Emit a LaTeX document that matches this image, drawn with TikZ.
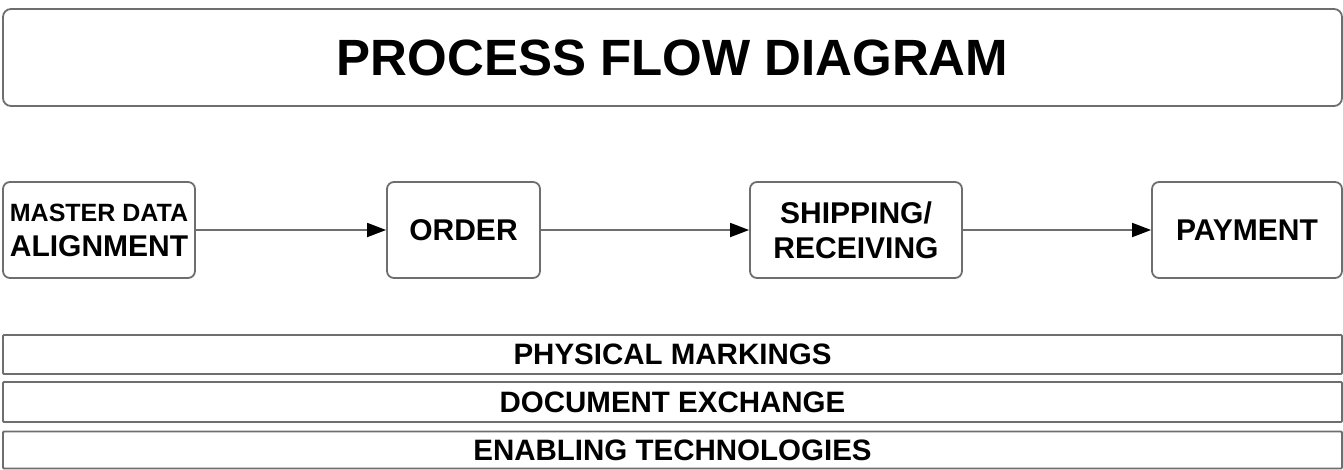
\documentclass[tikz,border=0pt]{standalone}
\usepackage{fontspec}
\setmainfont{Liberation Sans}
\usetikzlibrary{arrows.meta}
\definecolor{edgegray}{HTML}{6E6E6E}
\tikzset{
  frame/.style={draw=edgegray, line width=1.8pt, fill=white, inner sep=0pt, align=center, text=black, font=\bfseries\fontsize{30}{35}\selectfont},
  stepbox/.style={frame, rounded corners=7pt, minimum height=96pt},
  titlebox/.style={frame, rounded corners=8pt, minimum width=1339pt, minimum height=97pt, font=\bfseries\fontsize{51}{56}\selectfont},
  barbox/.style={frame, rounded corners=1pt, minimum width=1339pt, font=\bfseries\fontsize{29.5}{32}\selectfont},
  flow/.style={draw=edgegray, line width=1.8pt, -{Triangle[length=19pt,width=14pt,color=black]}}
}
\begin{document}
\begin{tikzpicture}[x=1pt,y=-1pt]
\useasboundingbox (0,0) rectangle (1343,469);
\node[titlebox] (title) at (672.5,57.5) {PROCESS FLOW DIAGRAM};
\node[stepbox, minimum width=192pt] (mda) at (99,230) {{\fontsize{25}{35}\selectfont MASTER DATA}\\ALIGNMENT};
\node[stepbox, minimum width=153pt] (order) at (463.5,230) {ORDER};
\node[stepbox, minimum width=212pt] (ship) at (856,230) {SHIPPING/\\RECEIVING};
\node[stepbox, minimum width=190pt] (pay) at (1247,230) {PAYMENT};
\draw[flow] (mda) -- (order);
\draw[flow] (order) -- (ship);
\draw[flow] (ship) -- (pay);
\node[barbox, minimum height=39pt] (phys) at (672.5,354.5) {PHYSICAL MARKINGS};
\node[barbox, minimum height=40pt] (doc) at (672.5,402) {DOCUMENT EXCHANGE};
\node[barbox, minimum height=37pt] (enab) at (672.5,450) {ENABLING TECHNOLOGIES};
\end{tikzpicture}
\end{document}
